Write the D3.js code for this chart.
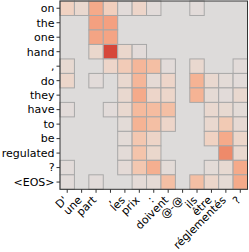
<!DOCTYPE html>
<html>
<head>
<meta charset="utf-8">
<script src="https://cdn.jsdelivr.net/npm/d3@7"></script>
<style>
  html, body { margin: 0; padding: 0; background: #fff; }
  text { font-family: "DejaVu Sans", sans-serif; font-size: 11px; fill: #000; }
</style>
</head>
<body>
<div id="chart"></div>
<script>
// source tokens (columns) and target tokens (rows)
const xLabels = ["D'", "une", "part", ",", "les", "prix", ":", "doivent", "@-@", "ils", "être", "réglementés", "?"];
const yLabels = ["on", "the", "one", "hand", ",", "do", "they", "have", "to", "be", "regulated", "?", "<EOS>"];

// attention weights, null = cell not shown
const weights = [
    [0.2, 0.1, 0.45, 0.22, 0.02, 0.15, 0.02, null, null, 0.02, null, null, null],
    [null, null, 0.5, 0.5, null, null, null, null, null, null, null, null, null],
    [null, null, 0.48, 0.48, null, null, null, null, null, null, null, null, null],
    [null, null, 0.12, 0.9, 0.12, 0.02, null, null, null, null, null, null, null],
    [0.08, null, null, 0.15, 0.25, 0.38, 0.33, 0.02, null, 0.1, null, null, 0.02],
    [0.14, null, 0.02, null, 0.1, 0.38, 0.05, 0.15, null, 0.4, 0.1, 0.03, 0.02],
    [null, null, null, null, 0.1, 0.45, 0.15, 0.14, null, 0.4, 0.06, 0.02, 0.1],
    [0.02, null, null, 0.02, 0.1, 0.36, 0.35, 0.33, null, null, 0.1, 0.08, 0.03],
    [null, null, null, null, 0.03, 0.4, 0.33, 0.15, null, null, 0.1, 0.26, 0.07],
    [null, null, null, null, 0.03, 0.28, 0.16, null, null, null, 0.2, 0.45, 0.14],
    [null, null, null, null, 0.03, 0.3, 0.12, null, null, null, null, 0.6, 0.1],
    [0.02, null, null, null, 0.04, 0.28, 0.42, 0.03, null, null, 0.03, 0.08, 0.45],
    [0.02, null, 0.02, null, null, 0.04, 0.05, 0.33, null, 0.33, 0.14, 0.06, 0.45]
];

const width = 249, height = 252;
const plotLeft = 60, plotTop = 1, plotRight = 247.5, plotBottom = 189.3;

const svg = d3.select('#chart')
    .append('svg')
    .attr('width', width)
    .attr('height', height);

const x = d3.scaleBand()
    .domain(d3.range(xLabels.length))
    .range([plotLeft, plotRight]);
const y = d3.scaleBand()
    .domain(d3.range(yLabels.length))
    .range([plotTop, plotBottom]);

// greyish-to-red map, as in the rendered figure
const color = d3.scaleLinear()
    .domain([0, 0.1, 0.2, 0.3, 0.4, 0.5, 0.6, 0.9])
    .range(['#e0dcdb', '#e9d8cf', '#f0d2c2', '#f4c4ab', '#f5b394', '#f4a080', '#ee8a6a', '#d6473a'])
    .clamp(true);

// background
svg.append('rect')
    .attr('x', plotLeft).attr('y', plotTop)
    .attr('width', plotRight - plotLeft).attr('height', plotBottom - plotTop)
    .attr('fill', '#dddbda');

const cells = [];
weights.forEach((row, r) => row.forEach((v, c) => {
    if (v !== null) cells.push({ r, c, v });
}));

svg.append('g')
    .selectAll('rect')
    .data(cells)
    .join('rect')
    .attr('x', d => x(d.c))
    .attr('y', d => y(d.r))
    .attr('width', x.bandwidth())
    .attr('height', y.bandwidth())
    .attr('fill', d => color(d.v))
    .attr('stroke', '#a8a8a8')
    .attr('stroke-width', 1);

// frame
svg.append('rect')
    .attr('x', plotLeft).attr('y', plotTop)
    .attr('width', plotRight - plotLeft).attr('height', plotBottom - plotTop)
    .attr('fill', 'none')
    .attr('stroke', '#333')
    .attr('stroke-width', 1);

// y ticks + labels
const gy = svg.append('g');
yLabels.forEach((lab, i) => {
    const cy = y(i) + y.bandwidth() / 2;
    gy.append('line')
        .attr('x1', plotLeft - 3.5).attr('x2', plotLeft)
        .attr('y1', cy).attr('y2', cy)
        .attr('stroke', '#333');
    gy.append('text')
        .attr('x', plotLeft - 5.5)
        .attr('y', cy)
        .attr('dy', '0.35em')
        .attr('text-anchor', 'end')
        .text(lab);
});

// x ticks + rotated labels
const gx = svg.append('g');
xLabels.forEach((lab, i) => {
    const cx = x(i) + x.bandwidth() / 2;
    gx.append('line')
        .attr('x1', cx).attr('x2', cx)
        .attr('y1', plotBottom).attr('y2', plotBottom + 3.5)
        .attr('stroke', '#333');
    gx.append('text')
        .attr('transform', `translate(${cx + 1},${plotBottom + 11.5}) rotate(-45)`)
        .attr('text-anchor', 'end')
        .text(lab);
});
</script>
</body>
</html>
